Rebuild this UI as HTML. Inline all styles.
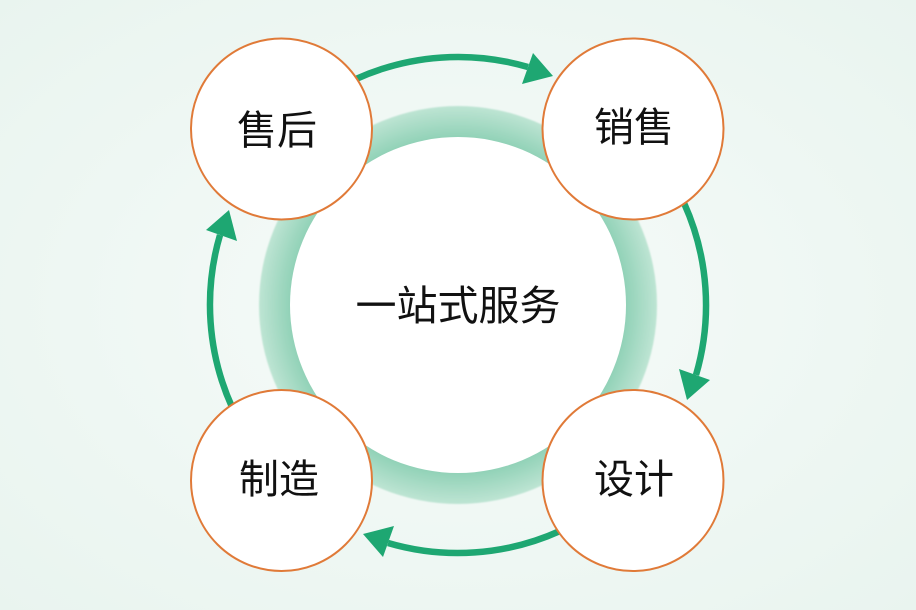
<!DOCTYPE html>
<html><head><meta charset="utf-8"><style>
html,body{margin:0;padding:0;width:916px;height:610px;overflow:hidden}
body{background:radial-gradient(ellipse at center,#f7fbf9 0%,#eef7f3 60%,#e9f4ef 100%)}
text{font-family:"Liberation Sans","Noto Sans CJK SC",sans-serif;fill:#111}
</style></head><body>
<svg width="916" height="610" viewBox="0 0 916 610" xmlns="http://www.w3.org/2000/svg">
<defs>
<radialGradient id="rg" cx="458" cy="305" r="200" gradientUnits="userSpaceOnUse">
<stop offset="0.8" stop-color="#86cdb0"/>
<stop offset="1" stop-color="#bfe5d4"/>
</radialGradient>
<filter id="bl"><feGaussianBlur stdDeviation="0.8"/></filter>
</defs>
<circle cx="458" cy="305" r="199" fill="url(#rg)" filter="url(#bl)"/>
<circle cx="458" cy="305" r="168" fill="#fff"/>
<text x="458" y="320" font-size="41" text-anchor="middle">一站式服务</text>
<g id="arr">
<path d="M356 79 A248 248 0 0 1 528 67" fill="none" stroke="#1ea772" stroke-width="6.5"/>
<polygon points="533,53 522,84 553,76" fill="#1ea772"/>
</g>
<use href="#arr" transform="rotate(90 458 305)"/>
<use href="#arr" transform="rotate(180 458 305)"/>
<use href="#arr" transform="rotate(270 458 305)"/>
<g fill="#fff" stroke="#e07a38" stroke-width="2">
<circle cx="281.5" cy="129" r="90.5"/>
<circle cx="633" cy="129" r="90.5"/>
<circle cx="281.5" cy="480.5" r="90.5"/>
<circle cx="633" cy="480.5" r="90.5"/>
</g>
<g font-size="40" text-anchor="middle">
<text x="277" y="144">售后</text>
<text x="634" y="141">销售</text>
<text x="279" y="493">制造</text>
<text x="634" y="493">设计</text>
</g>
</svg>
</body></html>
